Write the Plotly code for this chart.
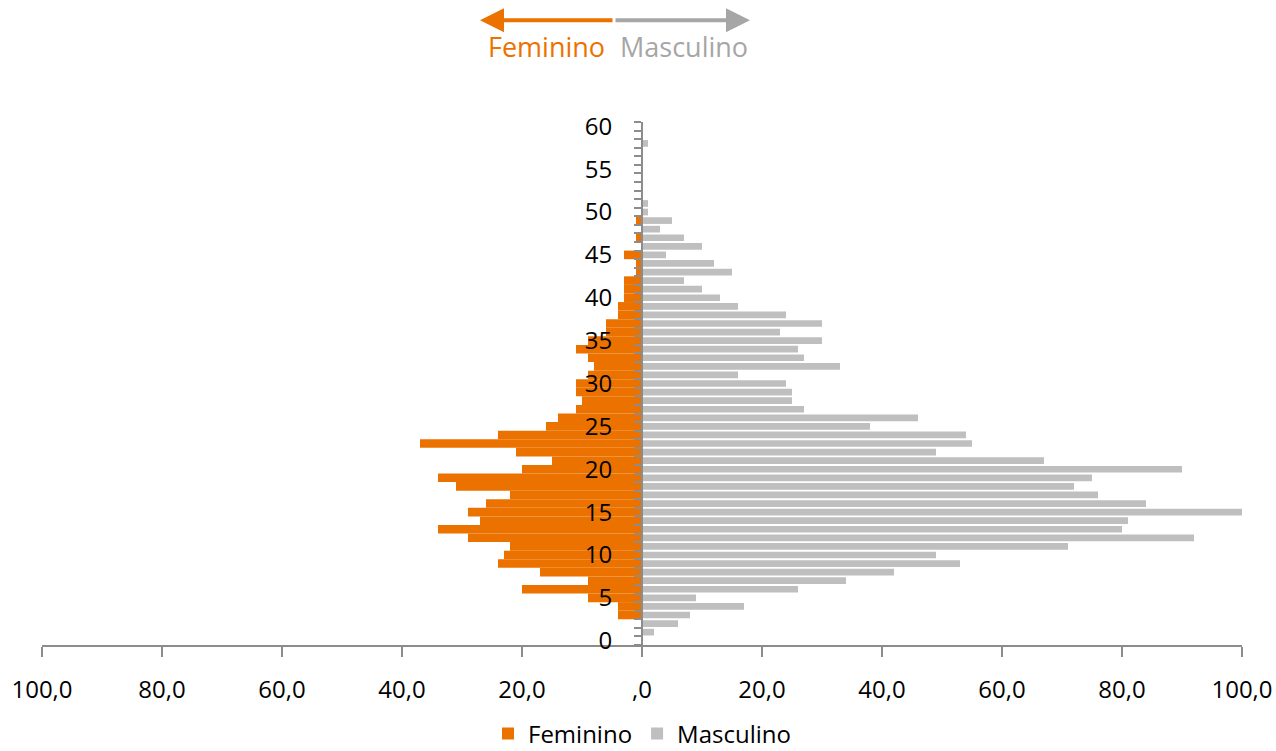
import plotly.graph_objects as go

ages = list(range(0, 61))
feminino = [0, 0, 0, 4, 4, 9, 20, 9, 17, 24,
            23, 22, 29, 34, 27, 29, 26, 22, 31, 34,
            20, 15, 21, 37, 24, 16, 14, 11, 10, 11,
            11, 9, 8, 9, 11, 9, 6, 6, 4, 4,
            3, 3, 3, 1, 1, 3, 0, 1, 0, 1,
            0, 0, 0, 0, 0, 0, 0, 0, 0, 0, 0]
masculino = [0, 2, 6, 8, 17, 9, 26, 34, 42, 53,
             49, 71, 92, 80, 81, 100, 84, 76, 72, 75,
             90, 67, 49, 55, 54, 38, 46, 27, 25, 25,
             24, 16, 33, 27, 26, 30, 23, 30, 24, 16,
             13, 10, 7, 15, 12, 4, 10, 7, 3, 5,
             1, 1, 0, 0, 0, 0, 0, 0, 1, 0, 0]
x_tickvals = [-100, -80, -60, -40, -20, 0, 20, 40, 60, 80, 100]
x_ticktext = ["100,0", "80,0", "60,0", "40,0", "20,0", ",0", "20,0", "40,0", "60,0", "80,0", "100,0"]
y_tickvals = [0, 5, 10, 15, 20, 25, 30, 35, 40, 45, 50, 55, 60]

ORANGE = "#EC7200"
GRAY = "#BFBFBF"
AXIS = "#8C8C8C"
ARROW_GRAY = "#A6A6A6"
FONT = "Open Sans, sans-serif"

fig = go.Figure()
fig.add_trace(go.Bar(
    y=ages, x=[-v for v in feminino], orientation="h", name="Feminino",
    marker=dict(color=ORANGE, line=dict(width=0)), width=1.0,
))
fig.add_trace(go.Bar(
    y=ages, x=masculino, orientation="h", name="Masculino",
    marker=dict(color=GRAY, line=dict(width=0)), width=0.78,
))

fig.update_layout(
    width=1276, height=751,
    margin=dict(l=42, r=34, t=122, b=106, autoexpand=False),
    barmode="overlay",
    plot_bgcolor="white", paper_bgcolor="white",
    font=dict(family=FONT, size=24, color="#000000"),
    showlegend=True,
    legend=dict(orientation="h", x=0.5, xanchor="center", y=-0.17, yanchor="middle",
                font=dict(size=24, color="#000000"), itemwidth=30, traceorder="normal"),
    xaxis=dict(
        range=[-100, 100], tickvals=x_tickvals, ticktext=x_ticktext,
        showgrid=False, zeroline=False, automargin=False,
        showline=True, linecolor=AXIS, linewidth=2,
        ticks="outside", ticklen=10, tickcolor=AXIS, tickwidth=1.5,
        ticklabelstandoff=12,
        tickfont=dict(size=24, color="#000000"),
    ),
    yaxis=dict(
        range=[-0.5, 60.5], tickvals=y_tickvals,
        anchor="free", position=0.5, automargin=False,
        showgrid=False, zeroline=False,
        showline=True, linecolor=AXIS, linewidth=2,
        ticks="", ticklabelstandoff=24,
        minor=dict(ticks="outside", tick0=-0.5, dtick=1, ticklen=7, tickcolor=AXIS, tickwidth=1.5, showgrid=False),
        tickfont=dict(size=24, color="#000000"),
    ),
)

# direction arrows at top (paper coords relative to plot area 42..1242 x, 121.7..644.8 y in px)
tip_y = (644.8 - 20) / 523.1
fig.add_annotation(x=(480 - 42) / 1200, y=tip_y, xref="paper", yref="paper",
                   ax=134, ay=0, text="", showarrow=True,
                   arrowhead=2, arrowsize=1.2, arrowwidth=4, arrowcolor=ORANGE)
fig.add_annotation(x=(750 - 42) / 1200, y=tip_y, xref="paper", yref="paper",
                   ax=-136, ay=0, text="", showarrow=True,
                   arrowhead=2, arrowsize=1.2, arrowwidth=4, arrowcolor=ARROW_GRAY)
text_y = (644.8 - 46) / 523.1
fig.add_annotation(x=(607 - 42) / 1200, y=text_y, xref="paper", yref="paper",
                   xanchor="right", yanchor="middle", showarrow=False,
                   text="Feminino", font=dict(size=27, color=ORANGE, family=FONT))
fig.add_annotation(x=(618 - 42) / 1200, y=text_y, xref="paper", yref="paper",
                   xanchor="left", yanchor="middle", showarrow=False,
                   text="Masculino", font=dict(size=27, color=ARROW_GRAY, family=FONT))

fig.write_html("out.html", config={"displayModeBar": False},
               post_script="document.body.style.margin='0';document.body.style.overflow='hidden';")
